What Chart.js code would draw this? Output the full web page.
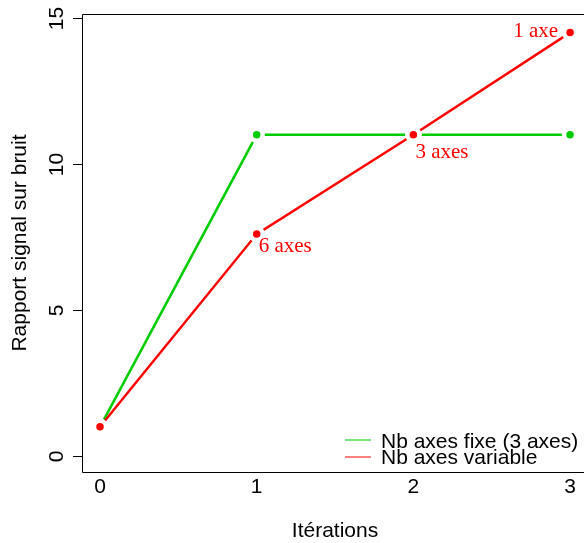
<!DOCTYPE html>
<html>
<head>
<meta charset="utf-8">
<script src="https://cdn.jsdelivr.net/npm/chart.js@4"></script>
<style>
  body { margin: 0; background: #fff; }
  canvas { display: block; }
</style>
</head>
<body>
<canvas id="chart" width="584" height="543"></canvas>
<script>
// donnees
const iterations = [0, 1, 2, 3];
const snrFixed = [1.0, 11.0, 11.0, 11.0];
const snrVariable = [1.0, 7.6, 11.0, 14.5];
const pointLabels = ['', '6 axes', '3 axes', '1 axe'];
const yTicks = [0, 5, 10, 15];
const seriesNames = ['Nb axes fixe (3 axes)', 'Nb axes variable'];

const GREEN = '#00CD00';
const RED = '#FF0000';
const SANS = '21px "Liberation Sans", Arial, sans-serif';
const SERIF = '21px "Liberation Serif", "Times New Roman", serif';

function toPoints(values) {
    return iterations.map((x, i) => ({ x: x, y: values[i] }));
}

// axes, titres, legende et etiquettes dessines a la maniere de R
const rStyle = {
    id: 'rStyle',
    afterDraw(chart) {
        const ctx = chart.ctx;
        const area = chart.chartArea;
        const xs = chart.scales.x;
        const ys = chart.scales.y;

        ctx.save();
        ctx.strokeStyle = '#000';
        ctx.lineWidth = 1;
        ctx.beginPath();
        ctx.moveTo(area.right, area.top + 0.5);
        ctx.lineTo(area.left + 0.5, area.top + 0.5);
        ctx.lineTo(area.left + 0.5, area.bottom + 0.5);
        ctx.lineTo(area.right, area.bottom + 0.5);
        ctx.stroke();

        // graduations de l'axe y
        ctx.fillStyle = '#000';
        ctx.font = SANS;
        yTicks.forEach(v => {
            const py = Math.round(ys.getPixelForValue(v)) + 0.5;
            ctx.beginPath();
            ctx.moveTo(area.left - 9, py);
            ctx.lineTo(area.left, py);
            ctx.stroke();
            ctx.save();
            ctx.translate(63, py);
            ctx.rotate(-Math.PI / 2);
            ctx.textAlign = 'center';
            ctx.textBaseline = 'alphabetic';
            ctx.fillText(String(v), 0, 0);
            ctx.restore();
        });

        // etiquettes de l'axe x
        ctx.textAlign = 'center';
        ctx.textBaseline = 'alphabetic';
        iterations.forEach(v => {
            ctx.fillText(String(v), xs.getPixelForValue(v), 493);
        });

        // titres
        ctx.fillText('Itérations', 335, 537);
        ctx.save();
        ctx.translate(26, 243);
        ctx.rotate(-Math.PI / 2);
        ctx.fillText('Rapport signal sur bruit', 0, 0);
        ctx.restore();

        // legende
        const legendColors = [GREEN, RED];
        const lineY = [440, 457];
        const textY = [448, 464];
        seriesNames.forEach((name, i) => {
            ctx.strokeStyle = legendColors[i];
            ctx.lineWidth = 1;
            ctx.beginPath();
            ctx.moveTo(345, lineY[i]);
            ctx.lineTo(371, lineY[i]);
            ctx.stroke();
        });
        ctx.fillStyle = '#000';
        ctx.textAlign = 'left';
        seriesNames.forEach((name, i) => {
            ctx.fillText(name, 381, textY[i]);
        });

        // etiquettes des points rouges
        ctx.fillStyle = RED;
        ctx.font = SERIF;
        pointLabels.forEach((txt, i) => {
            if (!txt) return;
            const px = xs.getPixelForValue(iterations[i]);
            const py = ys.getPixelForValue(snrVariable[i]);
            if (i === iterations.length - 1) {
                ctx.textAlign = 'right';
                ctx.fillText(txt, px - 12, py + 4);
            } else {
                ctx.textAlign = 'left';
                ctx.fillText(txt, px + 2, py + (i === 1 ? 18 : 23));
            }
        });
        ctx.restore();
    }
};

const chart = new Chart(document.getElementById('chart'), {
    type: 'line',
    data: {
        datasets: [
            {
                label: seriesNames[0],
                data: toPoints(snrFixed),
                borderColor: GREEN,
                pointBackgroundColor: GREEN,
                pointBorderColor: '#fff',
                order: 1
            },
            {
                label: seriesNames[1],
                data: toPoints(snrVariable),
                borderColor: RED,
                pointBackgroundColor: RED,
                pointBorderColor: '#fff',
                order: 0
            }
        ]
    },
    options: {
        responsive: false,
        animation: false,
        layout: { autoPadding: false, padding: { left: 82, top: 14, right: 0, bottom: 71 } },
        elements: {
            line: { borderWidth: 2.5, tension: 0 },
            point: { radius: 6, borderWidth: 4.5, hoverRadius: 6 }
        },
        scales: {
            x: { type: 'linear', min: -0.115, max: 3.089, display: false },
            y: { type: 'linear', min: -0.548, max: 15.137, display: false }
        },
        plugins: {
            legend: { display: false },
            tooltip: { enabled: false }
        }
    },
    plugins: [rStyle]
});
</script>
</body>
</html>
